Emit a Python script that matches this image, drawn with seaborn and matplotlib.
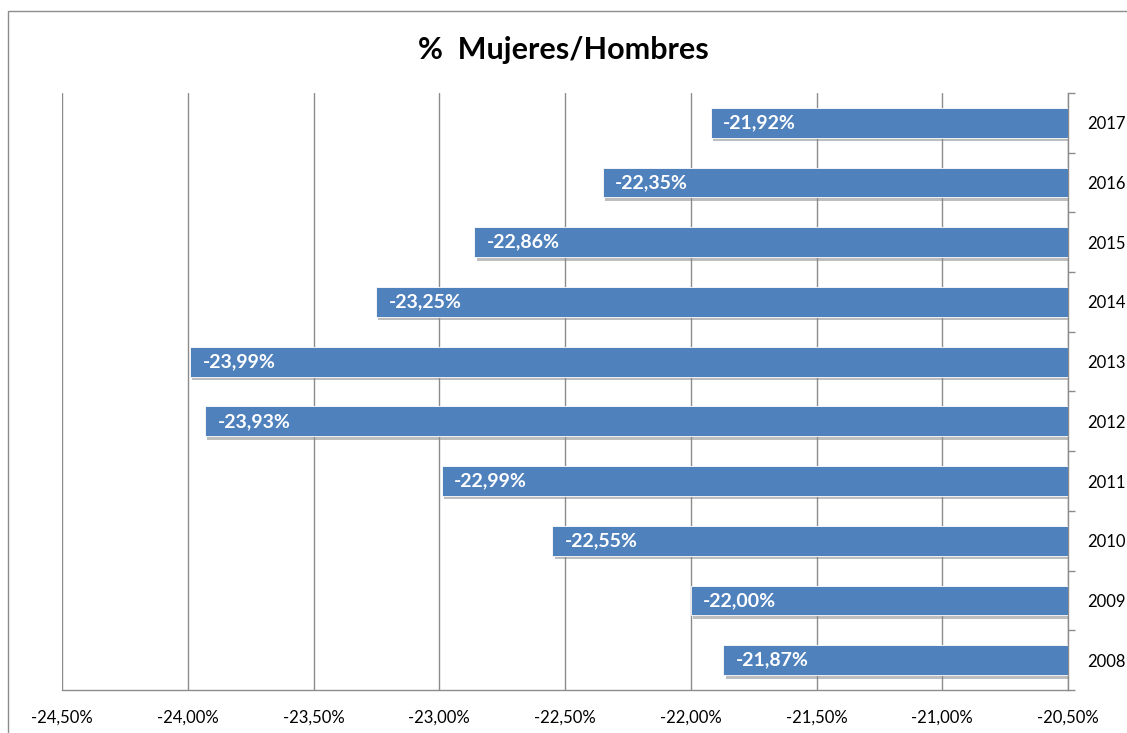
import matplotlib
matplotlib.use("Agg")
import matplotlib.pyplot as plt
import matplotlib.patheffects as pe
from matplotlib.patches import Rectangle
from matplotlib.ticker import FixedLocator, FuncFormatter
import pandas as pd
import seaborn as sns

# data (top to bottom as in the chart)
years = ["2017", "2016", "2015", "2014", "2013", "2012", "2011", "2010", "2009", "2008"]
values = [-21.92, -22.35, -22.86, -23.25, -23.99, -23.93, -22.99, -22.55, -22.00, -21.87]
x_ticks = [-24.5, -24.0, -23.5, -23.0, -22.5, -22.0, -21.5, -21.0, -20.5]

df = pd.DataFrame({"year": years, "value": values})

sns.set_style("white")
plt.rcParams["font.family"] = ["Lato", "DejaVu Sans"]

fig = plt.figure(figsize=(11.27, 7.33), dpi=100)
ax = fig.add_axes([62 / 1127, 43 / 733, (1068 - 62) / 1127, (690 - 93) / 733])

# outer chart frame
fig.patches.append(Rectangle((8 / 1127, -0.1), 1.2, 1.1 - 12 / 733 + 0.002,
                             transform=fig.transFigure, fill=False,
                             edgecolor="#8c8c8c", linewidth=1.0))

sns.barplot(data=df, x="value", y="year", order=years, orient="h",
            color="#4F81BD", width=0.5, saturation=1, ax=ax, zorder=3)

for bar in ax.patches:
    bar.set_path_effects([pe.SimplePatchShadow(offset=(1.5, -2.5), shadow_rgbFace="#8a8a8a", alpha=0.55),
                          pe.Normal()])
    bar.set_edgecolor("white")
    bar.set_linewidth(0.6)

ax.set_xlim(-24.5, -20.5)
ax.set_ylim(9.5, -0.5)
ax.set_xticks(x_ticks)
ax.xaxis.set_major_formatter(FuncFormatter(lambda v, p: f"{v:.2f}%".replace(".", ",")))
ax.grid(axis="x", color="#8c8c8c", linewidth=1.0, zorder=0)
ax.set_axisbelow(True)

ax.yaxis.tick_right()
ax.yaxis.set_minor_locator(FixedLocator([i - 0.5 for i in range(11)]))
ax.tick_params(axis="y", which="major", length=0, pad=14, labelsize=12, labelcolor="black")
ax.tick_params(axis="y", which="minor", length=5, color="#8c8c8c", width=1, right=True, left=False)
ax.tick_params(axis="x", length=6, color="#8c8c8c", width=1, pad=8, labelsize=12, labelcolor="black")

for side in ["top", "left"]:
    ax.spines[side].set_visible(False)
for side in ["bottom", "right"]:
    ax.spines[side].set_color("#8c8c8c")
    ax.spines[side].set_linewidth(1.0)

ax.set_xlabel("")
ax.set_ylabel("")

for i, v in enumerate(values):
    ax.annotate(f"{v:.2f}%".replace(".", ","), xy=(v, i), xytext=(9, 0),
                textcoords="offset points", ha="left", va="center",
                color="white", fontsize=14, fontweight="bold", zorder=5)

fig.text(0.5, 1 - 50 / 733, "%  Mujeres/Hombres", ha="center", va="center",
         fontsize=22, fontweight="bold", color="black")

fig.savefig("out.png", dpi=100)
